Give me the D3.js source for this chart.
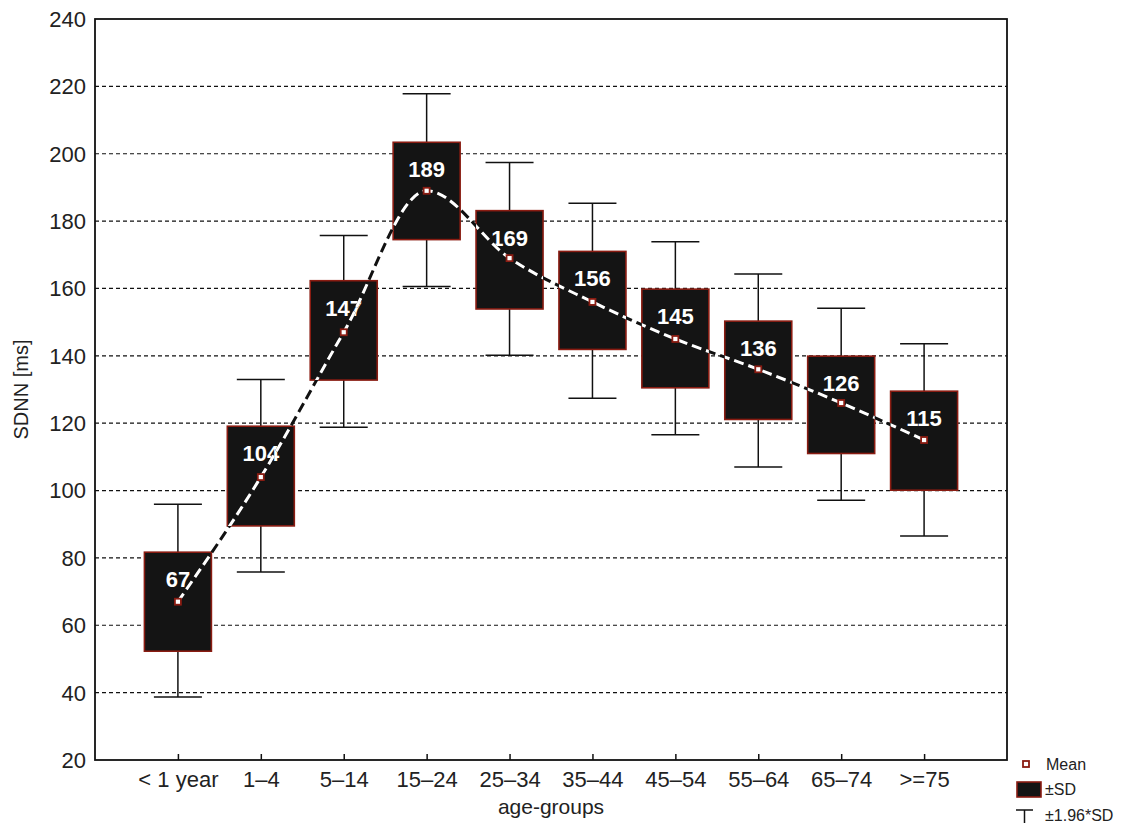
<!DOCTYPE html>
<html>
<head>
<meta charset="utf-8">
<script src="https://cdn.jsdelivr.net/npm/d3@7"></script>
<style>
  body { margin: 0; background: #fff; }
  text { font-family: "Liberation Sans", Arial, sans-serif; }
</style>
</head>
<body>
<div id="chart"></div>
<script>
// values
const groups = ["< 1 year", "1\u20134", "5\u201314", "15\u201324", "25\u201334", "35\u201344", "45\u201354", "55\u201364", "65\u201374", ">=75"];
const means  = [67, 104, 147, 189, 169, 156, 145, 136, 126, 115];
const sdLow  = [52.3, 89.5, 132.8, 174.5, 153.9, 141.9, 130.5, 121.1, 111.0, 100.1];
const sdHigh = [81.7, 119.1, 162.3, 203.4, 183.1, 171.0, 159.8, 150.3, 139.9, 129.5];
const ciLow  = [38.7, 75.8, 118.8, 160.6, 140.2, 127.4, 116.6, 107.0, 97.1, 86.5];
const ciHigh = [95.9, 133.0, 175.7, 217.8, 197.4, 185.3, 173.9, 164.3, 154.1, 143.6];
const yTicks = [20, 40, 60, 80, 100, 120, 140, 160, 180, 200, 220, 240];

var margin = {top: 19, left: 95},
    width = 912,
    height = 741;

var boxW = 67, capW = 48;
var boxFill = "#141414", boxStroke = "#8a1c12";

var svg = d3.select("#chart")
    .append("svg")
    .attr("width", 1128)
    .attr("height", 823);

var g = svg.append("g")
    .attr("transform", "translate(" + margin.left + "," + margin.top + ")");

const x = d3.scaleLinear()
    .domain([0, groups.length + 1])
    .range([0, width]);

const y = d3.scaleLinear()
    .domain([20, 240])
    .range([height, 0]);

const data = groups.map((d, i) => ({
    name: d, pos: i + 1, mean: means[i],
    sdLow: sdLow[i], sdHigh: sdHigh[i], ciLow: ciLow[i], ciHigh: ciHigh[i]
}));

// dashed grid lines
g.append("g")
    .selectAll("line")
    .data(yTicks.filter(t => t > 20 && t < 240))
    .enter().append("line")
    .attr("x1", 0)
    .attr("x2", width)
    .attr("y1", d => y(d))
    .attr("y2", d => y(d))
    .attr("stroke", "#111")
    .attr("stroke-width", 1.2)
    .attr("stroke-dasharray", "4,3");

// y tick labels
g.append("g")
    .selectAll("text")
    .data(yTicks)
    .enter().append("text")
    .attr("x", -9)
    .attr("y", d => y(d))
    .attr("dy", "0.36em")
    .attr("text-anchor", "end")
    .style("font-size", "22px")
    .attr("fill", "#222")
    .text(d => d);

// x axis ticks (inward) and labels
var xAxis = g.append("g")
    .attr("transform", `translate(0,${height})`)
    .call(d3.axisBottom(x)
        .tickValues(data.map(d => d.pos))
        .tickFormat((d, i) => groups[i])
        .tickSizeInner(-6)
        .tickSizeOuter(0)
        .tickPadding(11));
xAxis.select(".domain").remove();
xAxis.selectAll(".tick line").attr("stroke", "#111").attr("stroke-width", 1.5);
xAxis.selectAll(".tick text")
    .style("font-size", "22px")
    .style("font-family", "'Liberation Sans', Arial, sans-serif")
    .attr("fill", "#222");

// whiskers (±1.96*SD)
var whisk = g.append("g").selectAll("g")
    .data(data)
    .enter().append("g");

whisk.append("line")
    .attr("x1", d => x(d.pos)).attr("x2", d => x(d.pos))
    .attr("y1", d => y(d.ciLow)).attr("y2", d => y(d.ciHigh))
    .attr("stroke", "#111").attr("stroke-width", 1.5);

whisk.append("line")
    .attr("x1", d => x(d.pos) - capW / 2).attr("x2", d => x(d.pos) + capW / 2)
    .attr("y1", d => y(d.ciHigh)).attr("y2", d => y(d.ciHigh))
    .attr("stroke", "#111").attr("stroke-width", 1.5);

whisk.append("line")
    .attr("x1", d => x(d.pos) - capW / 2).attr("x2", d => x(d.pos) + capW / 2)
    .attr("y1", d => y(d.ciLow)).attr("y2", d => y(d.ciLow))
    .attr("stroke", "#111").attr("stroke-width", 1.5);

// boxes (±SD)
g.append("g").selectAll("rect")
    .data(data)
    .enter().append("rect")
    .attr("x", d => x(d.pos) - boxW / 2)
    .attr("y", d => y(d.sdHigh))
    .attr("width", boxW)
    .attr("height", d => y(d.sdLow) - y(d.sdHigh))
    .attr("fill", boxFill)
    .attr("stroke", boxStroke)
    .attr("stroke-width", 1.6);

// clip for the white part of the mean line
svg.append("defs").append("clipPath")
    .attr("id", "boxClip")
    .selectAll("rect")
    .data(data)
    .enter().append("rect")
    .attr("x", d => x(d.pos) - boxW / 2)
    .attr("y", d => y(d.sdHigh))
    .attr("width", boxW)
    .attr("height", d => y(d.sdLow) - y(d.sdHigh));

// mean labels
g.append("g").selectAll("text")
    .data(data)
    .enter().append("text")
    .attr("x", d => x(d.pos))
    .attr("y", d => y(d.sdHigh) + 35)
    .attr("text-anchor", "middle")
    .style("font-size", "22px")
    .style("font-weight", "bold")
    .attr("fill", "#fff")
    .text(d => d.mean);

// mean line
const line = d3.line()
    .curve(d3.curveMonotoneX)
    .x(d => x(d.pos))
    .y(d => y(d.mean));

g.append("path")
    .datum(data)
    .attr("fill", "none")
    .attr("stroke", "#111")
    .attr("stroke-width", 3)
    .attr("stroke-dasharray", "10,5")
    .attr("d", line);

g.append("path")
    .datum(data)
    .attr("fill", "none")
    .attr("stroke", "#fff")
    .attr("stroke-width", 3)
    .attr("stroke-dasharray", "10,5")
    .attr("clip-path", "url(#boxClip)")
    .attr("d", line);

// mean markers
g.append("g").selectAll("rect")
    .data(data)
    .enter().append("rect")
    .attr("x", d => x(d.pos) - 3)
    .attr("y", d => y(d.mean) - 3)
    .attr("width", 6)
    .attr("height", 6)
    .attr("fill", "#fff")
    .attr("stroke", boxStroke)
    .attr("stroke-width", 1.8);

// frame
g.append("rect")
    .attr("width", width)
    .attr("height", height)
    .attr("fill", "none")
    .attr("stroke", "#111")
    .attr("stroke-width", 1.8);

// axis titles
svg.append("text")
    .attr("transform", `translate(28,${margin.top + height / 2}) rotate(-90)`)
    .attr("text-anchor", "middle")
    .style("font-size", "20px")
    .attr("fill", "#222")
    .text("SDNN [ms]");

svg.append("text")
    .attr("x", margin.left + width * 0.5)
    .attr("y", 814)
    .attr("text-anchor", "middle")
    .style("font-size", "21px")
    .attr("fill", "#222")
    .text("age-groups");

// legend
var legend = svg.append("g").attr("transform", "translate(1016,0)");

legend.append("rect")
    .attr("x", 7).attr("y", 761)
    .attr("width", 6).attr("height", 6)
    .attr("fill", "#fff").attr("stroke", boxStroke).attr("stroke-width", 1.8);
legend.append("text")
    .attr("x", 30).attr("y", 770)
    .style("font-size", "16px").attr("fill", "#222")
    .text("Mean");

legend.append("rect")
    .attr("x", 1).attr("y", 782)
    .attr("width", 24).attr("height", 15)
    .attr("fill", boxFill).attr("stroke", boxStroke).attr("stroke-width", 1.6);
legend.append("text")
    .attr("x", 29).attr("y", 795)
    .style("font-size", "16px").attr("fill", "#222")
    .text("\u00b1SD");

legend.append("line")
    .attr("x1", 0).attr("x2", 17).attr("y1", 810).attr("y2", 810)
    .attr("stroke", "#111").attr("stroke-width", 1.5);
legend.append("line")
    .attr("x1", 8.5).attr("x2", 8.5).attr("y1", 810).attr("y2", 823)
    .attr("stroke", "#111").attr("stroke-width", 1.5);
legend.append("text")
    .attr("x", 29).attr("y", 821)
    .style("font-size", "16px").attr("fill", "#222")
    .text("\u00b11.96*SD");
</script>
</body>
</html>
